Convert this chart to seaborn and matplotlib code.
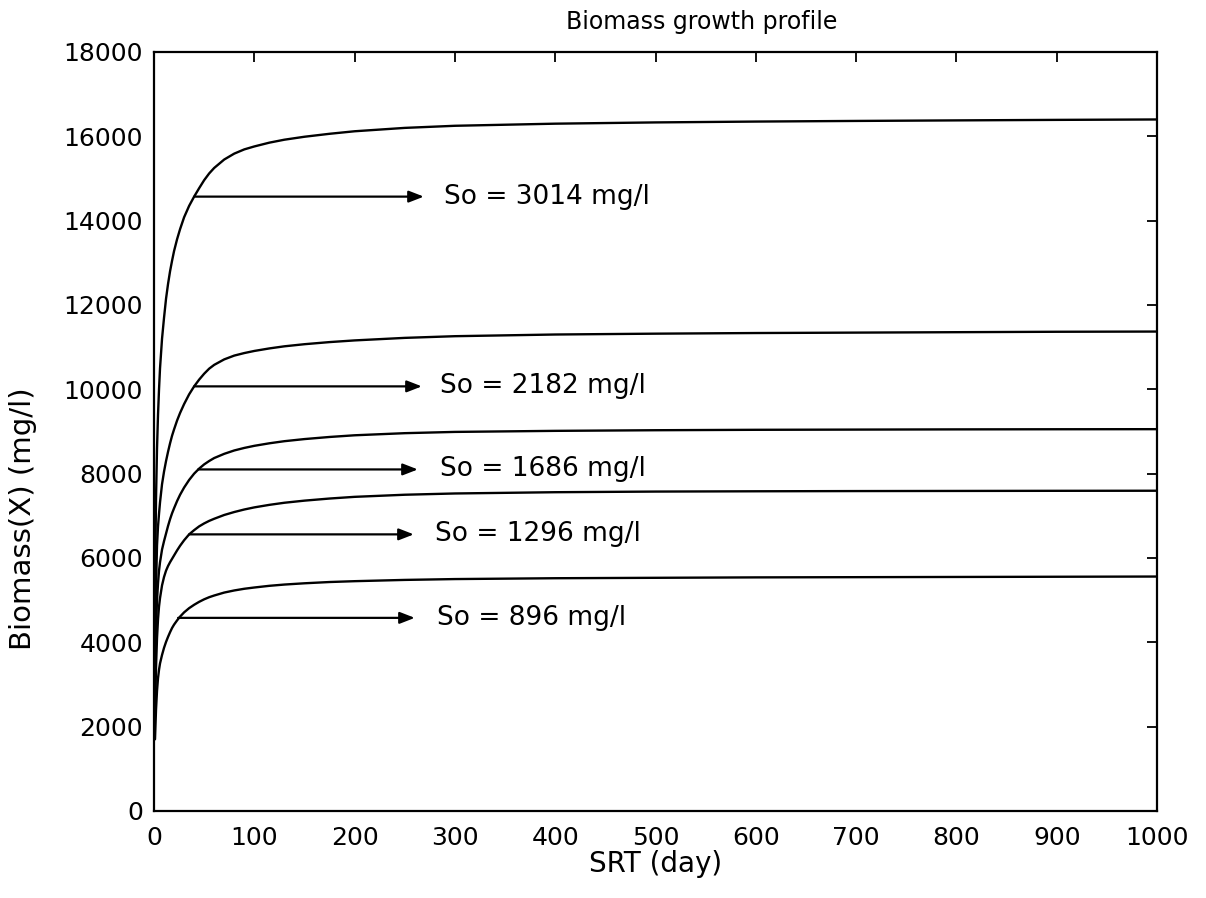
import matplotlib
matplotlib.use("Agg")
import matplotlib.pyplot as plt
import numpy as np
import pandas as pd
import seaborn as sns

# Sludge retention time (days) at which biomass was evaluated
srt = [1, 2, 3, 4, 5, 6, 8, 10, 12, 14, 16, 18, 20, 23, 26, 30, 35, 40, 45, 50,
       55, 60, 70, 80, 90, 100, 115, 130, 150, 175, 200, 250, 300, 400, 500,
       600, 700, 800, 900, 1000]

# Biomass concentration X (mg/l) for each influent substrate So
x_3014 = [5200, 7400, 8600, 9400, 10000, 10500, 11200, 11700, 12150, 12500,
          12800, 13050, 13280, 13560, 13800, 14080, 14350, 14570, 14770, 14960,
          15120, 15250, 15450, 15590, 15690, 15760, 15850, 15920, 15990, 16060,
          16120, 16200, 16250, 16300, 16330, 16350, 16365, 16378, 16390, 16400]
x_2182 = [3800, 5300, 6300, 6750, 7050, 7320, 7750, 8050, 8300, 8520,
          8720, 8900, 9050, 9260, 9440, 9650, 9880, 10070, 10230, 10370,
          10490, 10580, 10710, 10800, 10860, 10910, 10970, 11020, 11070, 11120,
          11160, 11220, 11260, 11300, 11320, 11335, 11345, 11355, 11365, 11370]
x_1686 = [2900, 4300, 5000, 5400, 5700, 5900, 6200, 6400, 6580, 6760,
          6920, 7060, 7180, 7350, 7500, 7670, 7850, 8000, 8120, 8220,
          8300, 8370, 8470, 8550, 8610, 8660, 8720, 8770, 8820, 8870,
          8910, 8960, 8990, 9015, 9030, 9040, 9045, 9050, 9053, 9055]
x_1296 = [2300, 3400, 4100, 4550, 4850, 5050, 5350, 5550, 5700, 5810,
          5900, 5980, 6060, 6180, 6290, 6420, 6560, 6660, 6750, 6820,
          6880, 6930, 7020, 7090, 7150, 7200, 7260, 7310, 7360, 7410,
          7450, 7500, 7530, 7560, 7575, 7582, 7587, 7590, 7593, 7595]
x_896 = [1700, 2400, 2850, 3150, 3350, 3500, 3700, 3870, 4010, 4130,
         4240, 4340, 4420, 4520, 4610, 4710, 4810, 4890, 4960, 5020,
         5070, 5110, 5180, 5230, 5270, 5300, 5340, 5370, 5400, 5430,
         5450, 5480, 5500, 5520, 5530, 5540, 5545, 5550, 5555, 5560]

so_values = [3014, 2182, 1686, 1296, 896]
series = [x_3014, x_2182, x_1686, x_1296, x_896]

# Arrow annotations: start SRT, biomass level, arrow tip SRT, text SRT
arrow_start = [40, 40, 44, 35, 24]
arrow_level = [14570, 10070, 8100, 6560, 4580]
arrow_tip = [269, 267, 263, 259, 260]
text_x = [289, 285, 285, 280, 282]
labels = [f"So = {s} mg/l" for s in so_values]

rows = []
for so, xs in zip(so_values, series):
    for t, v in zip(srt, xs):
        rows.append({"SRT": t, "X": v, "So": so})
df = pd.DataFrame(rows)

sns.set_style("white")
plt.rcParams["font.family"] = ["DejaVu Sans"]
plt.rcParams["text.color"] = "black"
plt.rcParams["axes.labelcolor"] = "black"

fig = plt.figure(figsize=(12.06, 8.98), dpi=100)
ax = fig.add_axes([0.1277, 0.0969, 0.8317, 0.8452])

sns.lineplot(data=df, x="SRT", y="X", hue="So", units="So", estimator=None,
             palette=["black"] * len(so_values), linewidth=1.7, legend=False, ax=ax)

for x0, y0, xt, xl, lab in zip(arrow_start, arrow_level, arrow_tip, text_x, labels):
    ax.annotate("", xy=(xt, y0), xytext=(x0, y0),
                arrowprops=dict(arrowstyle="-|>,head_length=0.9,head_width=0.35",
                                color="black", lw=1.6, shrinkA=0, shrinkB=0))
    ax.text(xl, y0, lab, fontsize=19, va="center", ha="left", color="black")

ax.set_xlim(0, 1000)
ax.set_ylim(0, 18000)
ax.set_xticks(np.arange(0, 1001, 100))
ax.set_yticks(np.arange(0, 18001, 2000))
ax.tick_params(direction="in", length=7, width=1.3, top=True, right=True,
               labelsize=18, colors="black")
ax.tick_params(axis="x", pad=11)
ax.tick_params(axis="y", pad=8)
for sp in ax.spines.values():
    sp.set_visible(True)
    sp.set_color("black")
    sp.set_linewidth(1.6)

ax.set_xlabel("SRT (day)", fontsize=20, labelpad=0)
ax.set_ylabel("Biomass(X) (mg/l)", fontsize=21)
ax.yaxis.set_label_coords(-0.117, 0.385)
ax.text(0.546, 1.0395, "Biomass growth profile", transform=ax.transAxes,
        fontsize=17, ha="center", va="center", color="black")

fig.savefig("out.png", dpi=100, facecolor="white")
